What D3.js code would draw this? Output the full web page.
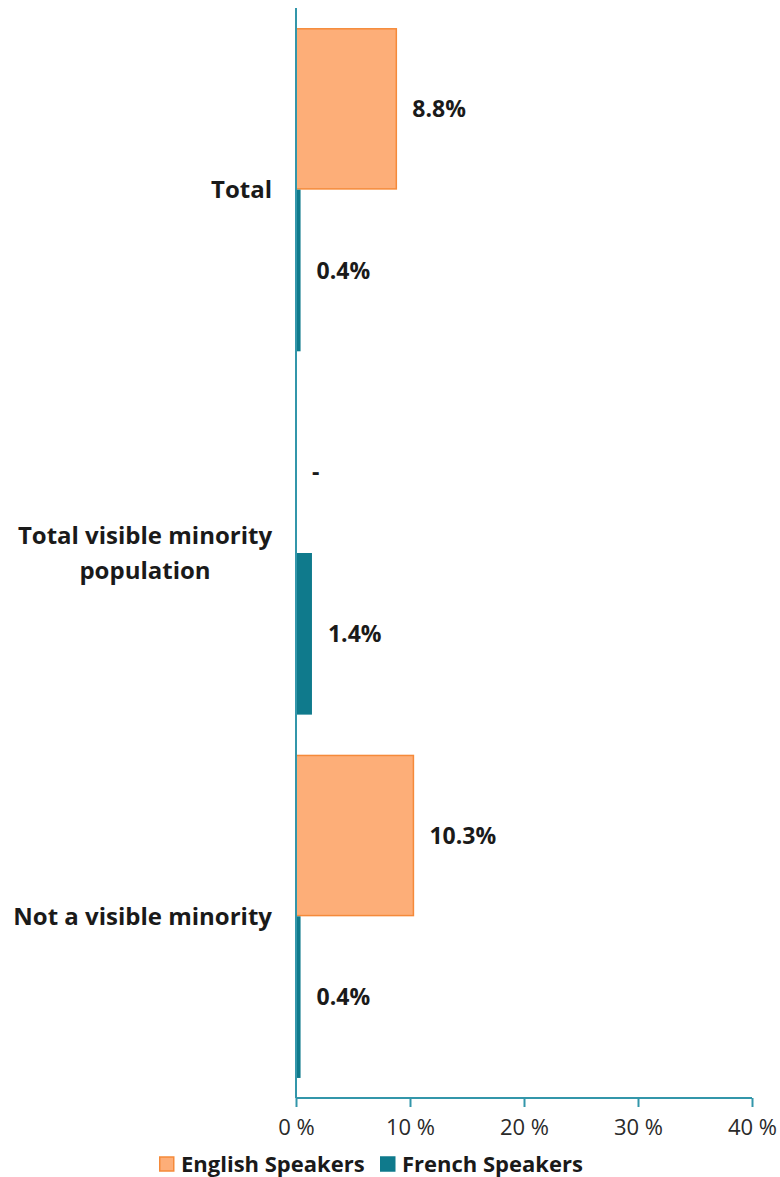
<!DOCTYPE html>
<html>
<head>
<meta charset="utf-8">
<script src="https://cdn.jsdelivr.net/npm/d3@7"></script>
<style>
  html, body { margin: 0; padding: 0; background: #fff; }
  svg { display: block; }
  text { font-family: "Open Sans", Lato, "DejaVu Sans", sans-serif; }
</style>
</head>
<body>
<svg id="chart" width="780" height="1177"></svg>
<script>
const categories = ["Total", "Total visible minority population", "Not a visible minority"];
const categoryLines = [["Total"], ["Total visible minority", "population"], ["Not a visible minority"]];
const seriesNames = ["English Speakers", "French Speakers"];
const englishValues = [8.8, null, 10.3];
const frenchValues = [0.4, 1.4, 0.4];
const englishLabels = ["8.8%", "-", "10.3%"];
const frenchLabels = ["0.4%", "1.4%", "0.4%"];
const xTicks = [0, 10, 20, 30, 40];
const xTickLabels = ["0 %", "10 %", "20 %", "30 %", "40 %"];

const colors = { "English Speakers": "#fdae78", "French Speakers": "#0f7a8c" };
const strokes = { "English Speakers": "#f58a3a", "French Speakers": "#0f7a8c" };

const svg = d3.select("#chart");
const mLeft = 296, mRight = 752, mTop = 8, mBottom = 1098;

const x = d3.scaleLinear().domain([0, 40]).range([mLeft, mRight]);
const y = d3.scaleBand().domain(categories).range([mTop, mBottom]).padding(0);
const ySub = d3.scaleBand().domain(seriesNames).range([0, y.bandwidth()]).paddingInner(0).paddingOuter(0.124);

const rows = categories.map((c, i) => ({
  cat: c,
  lines: categoryLines[i],
  bars: [
    { s: "English Speakers", v: englishValues[i], label: englishLabels[i] },
    { s: "French Speakers", v: frenchValues[i], label: frenchLabels[i] }
  ]
}));

const g = svg.append("g");
const groups = g.selectAll("g.cat").data(rows).join("g")
  .attr("class", "cat")
  .attr("transform", d => `translate(0,${y(d.cat)})`);

groups.selectAll("rect").data(d => d.bars.filter(b => b.v != null)).join("rect")
  .attr("x", x(0))
  .attr("y", b => ySub(b.s) + (b.s === "English Speakers" ? 0.75 : 0))
  .attr("width", b => x(b.v) - x(0))
  .attr("height", b => ySub.bandwidth() - (b.s === "English Speakers" ? 1.5 : 0))
  .attr("fill", b => colors[b.s])
  .attr("stroke", b => b.s === "English Speakers" ? strokes[b.s] : "none")
  .attr("stroke-width", 1.5);

groups.selectAll("text.val").data(d => d.bars).join("text")
  .attr("class", "val")
  .attr("x", b => x(b.v == null ? 0 : b.v) + 16)
  .attr("y", b => ySub(b.s) + ySub.bandwidth() / 2)
  .attr("dy", "0.35em")
  .attr("font-size", 23)
  .attr("font-weight", "bold")
  .attr("fill", "#1a1a1a")
  .text(b => b.label);

// category labels
groups.each(function(d) {
  const n = d.lines.length;
  const t = d3.select(this).append("text")
    .attr("font-size", 24)
    .attr("font-weight", "bold")
    .attr("fill", "#1a1a1a")
    .attr("text-anchor", n > 1 ? "middle" : "end");
  const cx = n > 1 ? 145 : 272;
  const lh = 35;
  d.lines.forEach((ln, i) => {
    t.append("tspan")
      .attr("x", cx)
      .attr("y", y.bandwidth() / 2 + (i - (n - 1) / 2) * lh)
      .attr("dy", "0.35em")
      .text(ln);
  });
});

// axes
const axisColor = "#3396aa";
const xAxis = d3.axisBottom(x).tickValues(xTicks).tickFormat((d, i) => xTickLabels[i]).tickSize(9).tickPadding(12);
const xg = svg.append("g").attr("transform", `translate(0,${mBottom})`).call(xAxis);
xg.select(".domain").attr("stroke", axisColor).attr("stroke-width", 2).attr("d", `M${mLeft},0H${mRight}`);
xg.selectAll(".tick line").attr("stroke", axisColor).attr("stroke-width", 2);
xg.selectAll(".tick text").attr("font-size", 22).attr("fill", "#2a2a2a").attr("font-family", "'Open Sans', Lato, sans-serif");

svg.append("line")
  .attr("x1", x(0)).attr("x2", x(0))
  .attr("y1", mTop).attr("y2", mBottom)
  .attr("stroke", axisColor).attr("stroke-width", 2);

// legend
const legendItems = [
  { s: "English Speakers", x: 159 },
  { s: "French Speakers", x: 380 }
];
const lg = svg.append("g").attr("transform", "translate(0,1164)");
legendItems.forEach(it => {
  lg.append("rect")
    .attr("x", it.x + 0.75).attr("y", -7)
    .attr("width", 14).attr("height", 14)
    .attr("fill", colors[it.s])
    .attr("stroke", strokes[it.s]).attr("stroke-width", 1.5);
  lg.append("text")
    .attr("x", it.x + 22).attr("y", 0).attr("dy", "0.35em")
    .attr("font-size", 22).attr("font-weight", "bold").attr("fill", "#1a1a1a")
    .text(it.s);
});
</script>
</body>
</html>
